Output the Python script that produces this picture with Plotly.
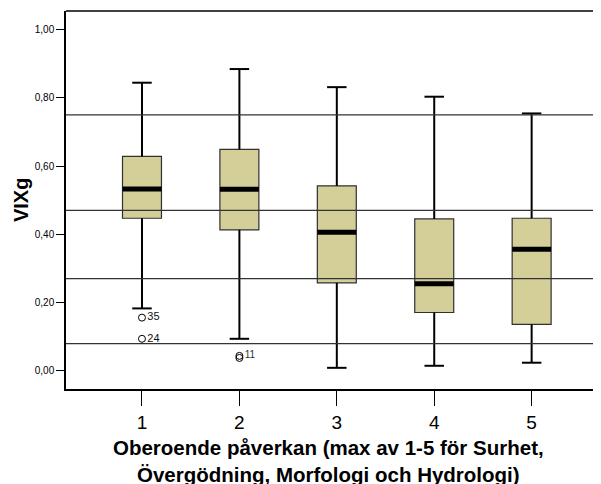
import plotly.graph_objects as go

# ---- data ----
categories = [1, 2, 3, 4, 5]
q1 = [0.447, 0.413, 0.258, 0.171, 0.136]
median = [0.533, 0.532, 0.406, 0.255, 0.356]
q3 = [0.628, 0.649, 0.542, 0.445, 0.447]
lower_whisker = [0.183, 0.094, 0.009, 0.015, 0.024]
upper_whisker = [0.844, 0.884, 0.831, 0.803, 0.754]

outlier_x = [1, 1, 2, 2]
outlier_y = [0.156, 0.094, 0.044, 0.038]
outlier_labels = ["35", "24", "11", ""]

ref_lines = [0.75, 0.47, 0.27, 0.08]

y_tick_vals = [0.0, 0.2, 0.4, 0.6, 0.8, 1.0]
y_tick_text = ["0,00", "0,20", "0,40", "0,60", "0,80", "1,00"]
x_tick_text = ["1", "2", "3", "4", "5"]

x_title = "Oberoende påverkan (max av 1-5 för Surhet,<br>Övergödning, Morfologi och Hydrologi)"
y_title = "VIXg"

BOX_W = 0.4
CAP_W = 0.2
FONT = "Arial, Liberation Sans, sans-serif"
FILL = "#D4CF99"

fig = go.Figure()

# boxes (body only)
fig.add_trace(go.Box(
    x=categories, q1=q1, median=median, q3=q3,
    lowerfence=q1, upperfence=q3,
    width=BOX_W, fillcolor=FILL,
    line=dict(color="#303030", width=1.2),
    boxpoints=False, hoverinfo="skip", showlegend=False,
))

# whiskers + caps
wx, wy = [], []
for c, lo, hi, a, b in zip(categories, lower_whisker, upper_whisker, q1, q3):
    wx += [c, c, None, c - CAP_W / 2, c + CAP_W / 2, None,
           c, c, None, c - CAP_W / 2, c + CAP_W / 2, None]
    wy += [b, hi, None, hi, hi, None, a, lo, None, lo, lo, None]
fig.add_trace(go.Scatter(x=wx, y=wy, mode="lines",
                         line=dict(color="black", width=2),
                         hoverinfo="skip", showlegend=False))

# thick medians
mx, my = [], []
for c, m in zip(categories, median):
    mx += [c - BOX_W / 2, c + BOX_W / 2, None]
    my += [m, m, None]
fig.add_trace(go.Scatter(x=mx, y=my, mode="lines",
                         line=dict(color="black", width=5),
                         hoverinfo="skip", showlegend=False))

# outliers
fig.add_trace(go.Scatter(
    x=outlier_x, y=outlier_y, mode="markers+text",
    text=outlier_labels, textposition="middle right",
    textfont=dict(family=FONT, size=[11, 11, 10, 10],
                  color=["#111", "#111", "#333", "#333"]),
    marker=dict(symbol="circle-open", size=7,
                line=dict(color="black", width=1), color="black"),
    hoverinfo="skip", showlegend=False,
))

shapes = []
for v in ref_lines:
    shapes.append(dict(type="line", xref="paper", x0=0, x1=1, yref="y",
                       y0=v, y1=v, line=dict(color="#333", width=1.2),
                       layer="above"))
shapes.append(dict(type="line", xref="paper", x0=0, x1=1, yref="paper",
                   y0=1, y1=1, line=dict(color="black", width=1.5)))

annotations = [
    dict(text="<b>" + x_title + "</b>", xref="paper", yref="paper",
         x=0.49, y=-0.1905, xanchor="center", yanchor="middle",
         showarrow=False, font=dict(size=20.5, family=FONT, color="black")),
    dict(text="<b>" + y_title + "</b>", xref="paper", yref="paper",
         x=-0.084, y=0.5, xanchor="center", yanchor="middle", textangle=-90,
         showarrow=False, font=dict(size=20, family=FONT, color="black")),
]

# page body has an 8px default margin, so the figure is sized to fit the window
fig.update_layout(
    width=593, height=476,
    margin=dict(l=58, r=0, t=3, b=95, autoexpand=False),
    paper_bgcolor="white", plot_bgcolor="white",
    separators=",.",
    font=dict(family=FONT, color="black"),
    shapes=shapes,
    annotations=annotations,
    xaxis=dict(
        range=[0.22, 5.712], tickvals=categories, ticktext=x_tick_text,
        ticks="outside", ticklen=15, tickwidth=1, tickcolor="black",
        tickfont=dict(size=19, family=FONT), automargin=False,
        showline=True, linecolor="black", linewidth=1.5,
        showgrid=False, zeroline=False,
    ),
    yaxis=dict(
        range=[-0.053, 1.054], tickvals=y_tick_vals, ticktext=y_tick_text,
        ticks="outside", ticklen=8, tickwidth=1, tickcolor="black",
        tickfont=dict(size=10, family=FONT), automargin=False,
        showline=True, linecolor="black", linewidth=1.5,
        showgrid=False, zeroline=False,
    ),
)

fig.write_html("out.html")
